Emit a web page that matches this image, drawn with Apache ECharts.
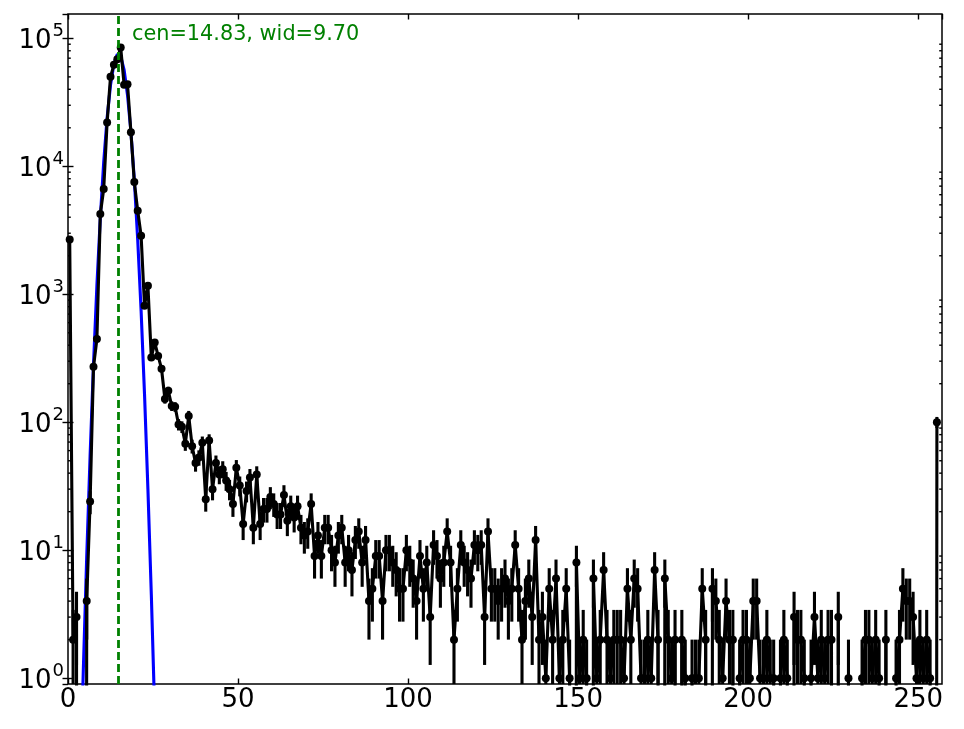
<!DOCTYPE html>
<html>
<head>
<meta charset="utf-8">
<script src="https://cdn.jsdelivr.net/npm/echarts@6/dist/echarts.min.js"></script>
<style>
  html, body { margin: 0; padding: 0; background: #fff; }
  #chart { width: 964px; height: 729px; }
</style>
</head>
<body>
<div id="chart"></div>
<script>
// ---- data ----
// histogram counts, one per bin (bin i is centred at i + 0.5)
const counts = [
  2680, 2, 3, 0, 0, 4, 24, 271, 447, 4234,
  6640, 21990, 50000, 62100, 68700, 84700, 43300, 43800, 18500, 7530,
  4490, 2865, 813, 1164, 321, 420, 330, 262, 152, 176,
  134, 132, 96, 92, 68, 112, 65, 48, 53, 69,
  25, 72, 30, 48, 39, 43, 35, 30, 23, 44,
  32, 16, 29, 37, 15, 39, 16, 21, 21, 26,
  23, 19, 19, 27, 17, 22, 18, 22, 15, 13,
  14, 23, 9, 13, 9, 15, 15, 10, 8, 13,
  15, 8, 10, 7, 12, 14, 8, 12, 4, 5,
  9, 9, 4, 10, 10, 8, 7, 5, 5, 10,
  8, 6, 4, 9, 5, 8, 3, 11, 9, 6,
  8, 14, 8, 2, 5, 11, 8, 7, 6, 11,
  10, 11, 3, 14, 5, 5, 4, 5, 6, 4,
  5, 11, 5, 2, 4, 6, 3, 12, 2, 3,
  1, 5, 2, 6, 1, 2, 5, 1, 0, 8,
  1, 2, 1, 0, 6, 1, 2, 7, 2, 1,
  2, 2, 2, 1, 5, 2, 6, 5, 1, 1,
  2, 1, 7, 2, 0, 6, 2, 1, 2, 0,
  2, 1, 0, 1, 1, 1, 5, 2, 0, 5,
  4, 2, 1, 4, 2, 2, 0, 1, 2, 2,
  1, 4, 4, 1, 1, 2, 1, 1, 0, 1,
  2, 1, 0, 3, 2, 2, 1, 0, 1, 3,
  1, 2, 1, 2, 2, 0, 3, 0, 0, 1,
  0, 0, 0, 1, 2, 2, 1, 2, 1, 0,
  2, 0, 0, 1, 2, 5, 4, 4, 3, 1,
  2, 1, 2, 1, 0, 100
];
// fitted gaussian curve as drawn (blue), sampled at the bin centres
const fitX = [3.5, 4.5, 5.5, 6.5, 7.5, 8.5, 9.5, 10.5, 11.5, 12.5, 13.5, 14.5,
              15.5, 16.5, 17.5, 18.5, 19.5, 20.5, 21.5, 22.5, 23.5, 24.5, 25.5, 26.5];
const fitY = [0.12, 1.14, 8.8, 55, 283, 1172, 3945, 10790, 23920, 43120, 63100, 74990,
              72440, 56750, 36100, 18660, 7830, 2673, 740, 166, 30, 4.5, 0.54, 0.053];
const cen = 14.83;
const wid = 9.70;
const xTicks = [0, 50, 100, 150, 200, 250];
const yDecades = [1, 10, 100, 1000, 10000, 100000];

// ---- ranges ----
const X_MIN = 0, X_MAX = 257;
const Y_MIN = 0.9, Y_MAX = 1.55e5;
const TINY = 1e-30;   // zero counts are clipped to the bottom, like matplotlib

const centers = counts.map((_, i) => i + 0.5);

const lineData = counts.map((v, i) => v > 0
  ? { value: [centers[i], v] }
  : { value: [centers[i], TINY], symbolSize: 0 });

const errData = counts.map((v, i) => [centers[i], v]);
const fitData = fitX.map((x, i) => [x, fitY[i]]);

// minor tick values for the log axis (2..9 x 10^k)
const minorVals = [];
yDecades.forEach(d => {
  for (let m = 2; m <= 9; m++) {
    const v = m * d;
    if (v > Y_MIN && v < Y_MAX) minorVals.push([X_MIN, v]);
  }
});

const FONT = 'DejaVu Sans';
const LW = 3.1;

const chart = echarts.init(document.getElementById('chart'), null, { renderer: 'canvas' });

function clampY(y, cs) {
  return Math.max(cs.y, Math.min(cs.y + cs.height, y));
}

const option = {
  animation: false,
  backgroundColor: '#fff',
  grid: {
    left: 68, right: 22, top: 14, bottom: 45,
    show: true, borderColor: '#000', borderWidth: 1.5, backgroundColor: 'transparent'
  },
  graphic: [{
    type: 'text', left: 132, top: 24, z: 100,
    style: {
      text: 'cen=' + cen.toFixed(2) + ', wid=' + wid.toFixed(2),
      fill: '#008000', font: '20.8px "' + FONT + '"'
    }
  }],
  xAxis: [{
    type: 'value', min: X_MIN, max: X_MAX, interval: 50, position: 'bottom',
    axisLine: { show: false },
    axisTick: { show: true, inside: true, length: 5.5, lineStyle: { color: '#000', width: 1.4 } },
    axisLabel: {
      show: true, margin: 3, color: '#000', fontSize: 26, fontFamily: FONT,
      showMaxLabel: false,
      formatter: v => (xTicks.indexOf(v) >= 0 ? String(v) : '')
    },
    splitLine: { show: false }
  }, {
    type: 'value', min: X_MIN, max: X_MAX, interval: 50, position: 'top',
    axisLine: { show: false },
    axisTick: { show: true, inside: true, length: 5.5, lineStyle: { color: '#000', width: 1.4 } },
    axisLabel: { show: false },
    splitLine: { show: false }
  }],
  yAxis: [{
    type: 'log', min: Y_MIN, max: Y_MAX, position: 'left',
    axisLine: { show: false },
    axisTick: { show: true, inside: true, length: 5.5, lineStyle: { color: '#000', width: 1.4 } },
    axisLabel: {
      show: true, margin: 4, color: '#000', fontFamily: FONT,
      showMinLabel: false, showMaxLabel: false,
      formatter: v => {
        const e = Math.round(Math.log10(v));
        if (Math.abs(Math.log10(v) - e) > 1e-6) return '';
        return '{b|10}{s|' + e + '}';
      },
      rich: {
        b: { fontSize: 26, fontFamily: FONT, color: '#000', lineHeight: 32, verticalAlign: 'bottom' },
        s: { fontSize: 18, fontFamily: FONT, color: '#000', lineHeight: 32, verticalAlign: 'top', padding: [0, 0, 0, 1] }
      }
    },
    splitLine: { show: false }
  }, {
    type: 'log', min: Y_MIN, max: Y_MAX, position: 'right',
    axisLine: { show: false },
    axisTick: { show: true, inside: true, length: 5.5, lineStyle: { color: '#000', width: 1.4 } },
    axisLabel: { show: false },
    splitLine: { show: false }
  }],
  series: [
    {
      name: 'minorTicks', type: 'custom', xAxisIndex: 0, yAxisIndex: 0, silent: true,
      data: minorVals,
      renderItem: (params, api) => {
        const cs = params.coordSys;
        const y = api.coord([X_MIN, api.value(1)])[1];
        return {
          type: 'group', children: [
            { type: 'line', shape: { x1: cs.x, y1: y, x2: cs.x + 2.8, y2: y }, style: { stroke: '#000', lineWidth: 1.4 } },
            { type: 'line', shape: { x1: cs.x + cs.width, y1: y, x2: cs.x + cs.width - 2.8, y2: y }, style: { stroke: '#000', lineWidth: 1.4 } }
          ]
        };
      },
      z: 5
    },
    {
      name: 'fit', type: 'line', xAxisIndex: 0, yAxisIndex: 0,
      data: fitData, showSymbol: false, symbol: 'none',
      lineStyle: { color: '#0000ff', width: LW }, clip: true, z: 2,
      markLine: {
        silent: true, symbol: ['none', 'none'], label: { show: false },
        lineStyle: { color: '#008000', type: [8, 4], width: 2.8 },
        data: [{ xAxis: cen }]
      }
    },
    {
      name: 'errors', type: 'custom', xAxisIndex: 0, yAxisIndex: 0, silent: true,
      data: errData, clip: true,
      renderItem: (params, api) => {
        const x = api.value(0), v = api.value(1);
        if (!(v > 0)) return null;
        const cs = params.coordSys;
        const e = Math.sqrt(v);
        const pTop = api.coord([x, v + e]);
        const lo = v - e;
        const yBot = lo > 0 ? api.coord([x, lo])[1] : cs.y + cs.height;
        return {
          type: 'line',
          shape: { x1: pTop[0], y1: clampY(pTop[1], cs), x2: pTop[0], y2: clampY(yBot, cs) },
          style: { stroke: '#000', lineWidth: LW }
        };
      },
      z: 3
    },
    {
      name: 'counts', type: 'line', xAxisIndex: 0, yAxisIndex: 0,
      data: lineData, symbol: 'circle', symbolSize: 8, showAllSymbol: true,
      itemStyle: { color: '#000' },
      lineStyle: { color: '#000', width: LW }, clip: true, z: 4
    }
  ]
};
chart.setOption(option);
</script>
</body>
</html>
